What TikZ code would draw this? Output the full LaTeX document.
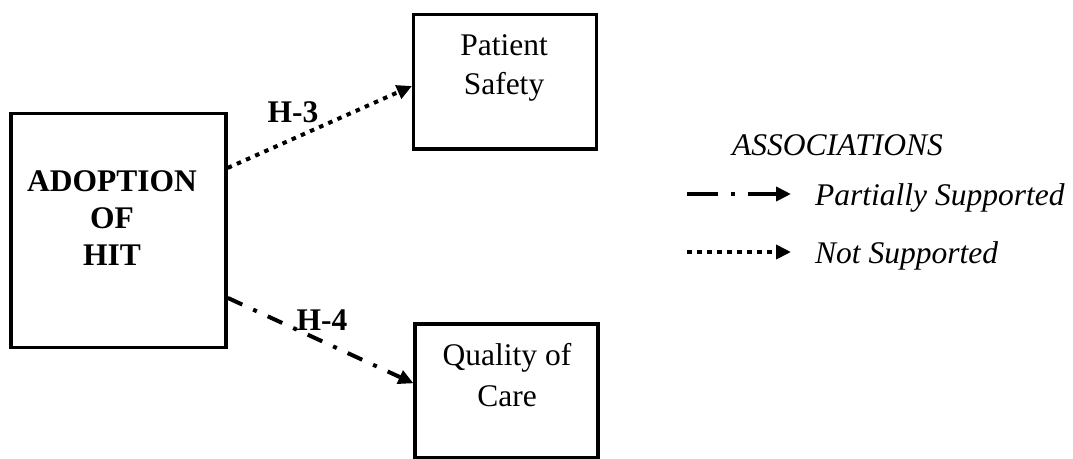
\documentclass[tikz,border=0pt]{standalone}
\usepackage{fontspec}
\setmainfont{Liberation Serif}
\usetikzlibrary{arrows.meta}
\begin{document}
\begin{tikzpicture}[x=1pt,y=-1pt,
  box/.style={draw, line width=3.5pt, rectangle, inner sep=0pt},
  txt/.style={anchor=base, inner sep=0pt, font=\fontsize{31.5}{36}\selectfont},
  btxt/.style={txt, font=\fontsize{31.5}{36}\selectfont\bfseries},
  itxt/.style={anchor=base west, inner sep=0pt, font=\fontsize{31.5}{36}\selectfont\itshape},
  link/.style={line width=4pt, -{Triangle[length=15pt,width=14pt]}},
  notsup/.style={link, dash pattern=on 4.5pt off 5.5pt},
  partsup/.style={link, dash pattern=on 16pt off 12pt on 4pt off 12pt},
  partlegend/.style={link, dash pattern=on 31pt off 13pt on 4pt off 13pt}]
\useasboundingbox (0,0) rectangle (1073,458);

% construct boxes
\node[box, minimum width=215pt, minimum height=234pt] (adopt) at (118.5,230.4) {};
\node[box, minimum width=183pt, minimum height=134.5pt] (safety) at (505.2,81.5) {};
\node[box, minimum width=183pt, minimum height=133.5pt] (care) at (506.7,390.8) {};

% box texts
\node[btxt] (adoptA) at (112,191) {ADOPTION};
\node[btxt] (adoptB) at (112,228) {OF};
\node[btxt] (adoptC) at (112,265) {HIT};
\node[txt] (safetyA) at (504,55) {Patient};
\node[txt] (safetyB) at (504,94) {Safety};
\node[txt] (careA) at (507,365) {Quality of};
\node[txt] (careB) at (507,406.5) {Care};

% hypothesised associations
\draw[notsup] ([yshift=62.5pt]adopt.east) -- ([yshift=-4.5pt]safety.west);
\draw[partsup] ([yshift=-67.5pt]adopt.east) -- ([yshift=7.5pt]care.west);
\node[btxt] (h3) at (293,122) {H-3};
\node[btxt] (h4) at (322,330) {H-4};

% legend
\node[itxt] (legtitle) at (732,155) {ASSOCIATIONS};
\coordinate (pA) at (687,194);
\coordinate (pB) at (791,194);
\coordinate (nA) at (687,252);
\coordinate (nB) at (791,252);
\draw[partlegend] (pA) -- (pB);
\draw[notsup] (nA) -- (nB);
\node[itxt] (legpart) at (815,205) {Partially Supported};
\node[itxt] (legnot) at (815,263) {Not Supported};
\end{tikzpicture}
\end{document}
